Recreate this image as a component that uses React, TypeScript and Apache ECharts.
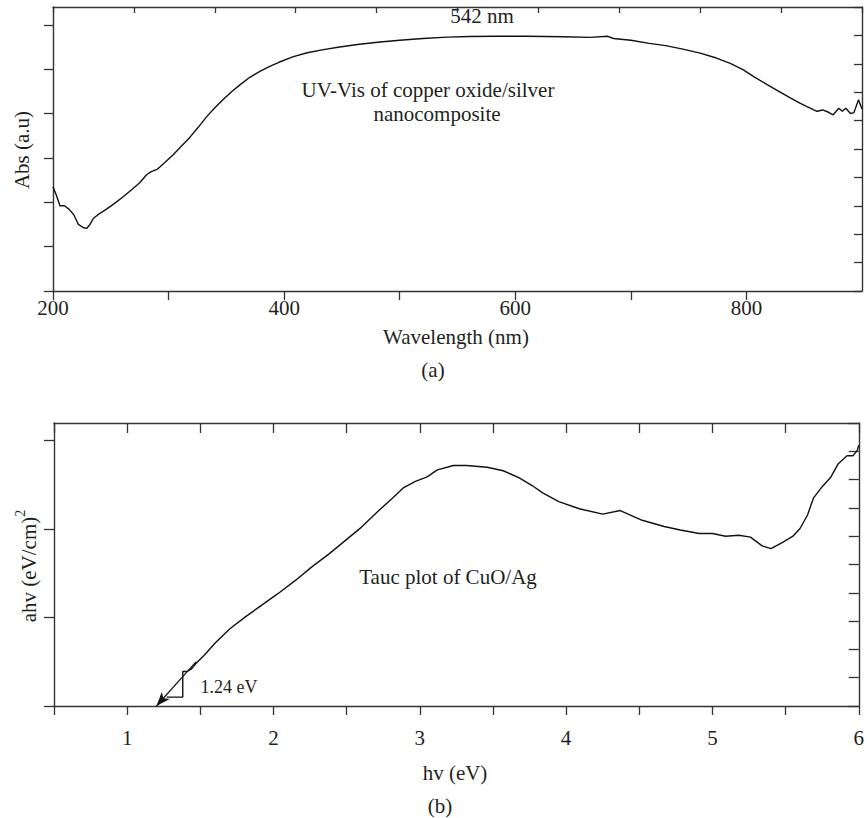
import React, { useEffect, useRef } from "react";
import * as echarts from "echarts";

// ---- Panel (a): UV-Vis spectrum ----
const wavelength = [
  200, 203, 206, 210, 214, 218, 222, 226, 229, 232, 235, 240, 246, 253, 261, 268, 275, 281, 285, 290,
  297, 304, 311, 318, 326, 333, 340, 347, 355, 362, 370, 379, 388, 396, 408, 420, 434, 448, 465, 483,
  500, 520, 541, 560, 584, 610, 641, 665, 680, 685, 700, 716, 730, 745, 760, 774, 786, 797, 807, 818,
  828, 838, 845, 852, 857, 861, 866, 870, 875, 880, 883, 886, 890, 893, 897, 900,
];
const absorbance = [
  2.35, 2.15, 1.92, 1.92, 1.84, 1.72, 1.5, 1.43, 1.41, 1.5, 1.64, 1.74, 1.84, 1.97, 2.13, 2.28, 2.44, 2.62, 2.69, 2.74,
  2.9, 3.07, 3.26, 3.45, 3.7, 3.93, 4.13, 4.31, 4.5, 4.65, 4.81, 4.95, 5.07, 5.16, 5.28, 5.37, 5.44, 5.5, 5.56, 5.61,
  5.65, 5.69, 5.72, 5.735, 5.74, 5.74, 5.73, 5.715, 5.74, 5.69, 5.65, 5.58, 5.53, 5.45, 5.36, 5.25, 5.13, 4.99, 4.82, 4.65,
  4.5, 4.35, 4.25, 4.16, 4.1, 4.05, 4.08, 4.04, 3.97, 4.12, 4.05, 4.12, 4.0, 4.02, 4.31, 4.1,
];
const wavelengthLabels = [200, 400, 600, 800];

// ---- Panel (b): Tauc plot ----
const photonEnergy = [
  1.27, 1.38, 1.38, 1.41, 1.44, 1.47, 1.53, 1.6, 1.7, 1.81, 1.92, 2.03, 2.15, 2.26, 2.38, 2.49, 2.6, 2.72, 2.82, 2.89,
  2.97, 3.05, 3.12, 3.23, 3.32, 3.46, 3.57, 3.68, 3.77, 3.84, 3.95, 4.09, 4.25, 4.37, 4.52, 4.67, 4.78, 4.91, 5.0, 5.09,
  5.18, 5.26, 5.34, 5.4, 5.48, 5.55, 5.6, 5.65, 5.69, 5.75, 5.81, 5.86, 5.92, 5.96, 5.99, 6.0,
];
const taucValues = [
  0.1, 0.1, 0.39, 0.39, 0.42, 0.48, 0.58, 0.71, 0.87, 1.01, 1.14, 1.27, 1.42, 1.57, 1.72, 1.87, 2.02, 2.21, 2.36, 2.47,
  2.54, 2.59, 2.67, 2.72, 2.72, 2.7, 2.66, 2.58, 2.49, 2.41, 2.31, 2.23, 2.17, 2.21, 2.1, 2.03, 1.99, 1.95, 1.95, 1.92,
  1.93, 1.91, 1.81, 1.78, 1.85, 1.92, 2.01, 2.16, 2.35, 2.48, 2.59, 2.74, 2.83, 2.83, 2.89, 2.95,
];
const energyLabels = [1, 2, 3, 4, 5, 6];
const tangentStart = [1.47, 0.5];
const tangentEnd = [1.2, 0];

const FONT = "'Liberation Serif', 'Times New Roman', serif";
const TEXT = "#231f20";
const AXIS = "#333333";

export default function App() {
  const ref = useRef<HTMLDivElement>(null);

  useEffect(() => {
    if (!ref.current) return;
    const chart = echarts.init(ref.current, undefined, { renderer: "svg" });

    const axisLine = { show: true, onZero: false, lineStyle: { color: AXIS, width: 1.4 } };
    const tickStyle = { color: AXIS, width: 1.3 };

    const txt = (text: string, x: number, y: number, size = 21, rotation = 0) => ({
      type: "text",
      x,
      y,
      rotation,
      style: {
        text,
        fill: TEXT,
        font: `${size}px ${FONT}`,
        textAlign: "center",
        textVerticalAlign: "middle",
      },
    });

    chart.setOption({
      animation: false,
      backgroundColor: "#ffffff",
      grid: [
        { left: 53, top: 7, width: 809, height: 284 },
        { left: 54, top: 423, width: 810, height: 283 },
      ],
      xAxis: [
        {
          gridIndex: 0,
          type: "value",
          position: "bottom",
          min: 200,
          max: 900,
          interval: 100,
          axisLine,
          axisTick: { show: true, inside: false, length: 9, lineStyle: tickStyle },
          axisLabel: {
            margin: 6,
            fontFamily: FONT,
            fontSize: 21,
            color: TEXT,
            showMaxLabel: false,
            formatter: (v: number) => (wavelengthLabels.includes(v) ? String(v) : ""),
          },
          splitLine: { show: false },
        },
        {
          gridIndex: 0,
          type: "value",
          position: "top",
          min: 0,
          max: 10,
          interval: 1,
          axisLine,
          axisTick: { show: true, inside: true, length: 6, lineStyle: tickStyle },
          axisLabel: { show: false },
          splitLine: { show: false },
        },
        {
          gridIndex: 1,
          type: "value",
          position: "bottom",
          min: 0.5,
          max: 6,
          interval: 0.5,
          axisLine,
          axisTick: { show: true, inside: false, length: 9, lineStyle: tickStyle },
          axisLabel: {
            margin: 21,
            fontFamily: FONT,
            fontSize: 21,
            color: TEXT,
            formatter: (v: number) => (energyLabels.includes(v) ? String(v) : ""),
          },
          splitLine: { show: false },
        },
        {
          gridIndex: 1,
          type: "value",
          position: "top",
          min: 0.5,
          max: 6,
          interval: 0.5,
          axisLine,
          axisTick: { show: true, inside: true, length: 10, lineStyle: tickStyle },
          axisLabel: { show: false },
          splitLine: { show: false },
        },
      ],
      yAxis: [
        {
          gridIndex: 0,
          type: "value",
          position: "left",
          min: 0,
          max: 6.4,
          interval: 1,
          axisLine,
          axisTick: { show: true, inside: false, length: 9, lineStyle: tickStyle, customValues: [0, 1, 2, 3, 4, 5, 6] },
          axisLabel: { show: false },
          splitLine: { show: false },
        },
        {
          gridIndex: 0,
          type: "value",
          position: "right",
          min: 0,
          max: 10,
          interval: 1,
          axisLine,
          axisTick: { show: true, inside: true, length: 8, lineStyle: tickStyle },
          axisLabel: { show: false },
          splitLine: { show: false },
        },
        {
          gridIndex: 1,
          type: "value",
          position: "left",
          min: 0,
          max: 3.2,
          interval: 1,
          axisLine,
          axisTick: { show: true, inside: false, length: 10, lineStyle: tickStyle, customValues: [0, 1, 2, 3] },
          axisLabel: { show: false },
          splitLine: { show: false },
        },
        {
          gridIndex: 1,
          type: "value",
          position: "right",
          min: 0,
          max: 10,
          interval: 1,
          axisLine,
          axisTick: { show: true, inside: true, length: 10, lineStyle: tickStyle },
          axisLabel: { show: false },
          splitLine: { show: false },
        },
      ],
      series: [
        {
          type: "line",
          xAxisIndex: 0,
          yAxisIndex: 0,
          data: wavelength.map((w, i) => [w, absorbance[i]]),
          showSymbol: false,
          symbol: "none",
          lineStyle: { color: "#111111", width: 1.4 },
          silent: true,
        },
        {
          type: "line",
          xAxisIndex: 2,
          yAxisIndex: 2,
          data: photonEnergy.map((e, i) => [e, taucValues[i]]),
          showSymbol: false,
          symbol: "none",
          lineStyle: { color: "#111111", width: 1.4 },
          silent: true,
          markLine: {
            silent: true,
            animation: false,
            label: { show: false },
            itemStyle: { color: "#111111" },
            lineStyle: { color: "#111111", width: 1.2, type: "solid" },
            data: [
              [
                { coord: tangentStart, symbol: "none" },
                { coord: tangentEnd, symbol: "arrow", symbolSize: [8, 14], itemStyle: { color: "#111111" } },
              ],
            ],
          },
        },
      ],
      graphic: [
        txt("542 nm", 482, 16),
        txt("UV-Vis of copper oxide/silver", 428, 90),
        txt("nanocomposite", 437, 114),
        txt("Abs (a.u)", 22, 150, 21, Math.PI / 2),
        txt("Wavelength (nm)", 456, 337),
        txt("(a)", 433, 370),
        txt("Tauc plot of CuO/Ag", 448, 577),
        txt("1.24 eV", 229, 687, 18),
        {
          type: "text",
          x: 26,
          y: 566,
          rotation: Math.PI / 2,
          style: {
            text: "{m|ahv (eV/cm)}{s|2}",
            fill: TEXT,
            font: `21px ${FONT}`,
            textAlign: "center",
            textVerticalAlign: "middle",
            rich: {
              m: { fontFamily: FONT, fontSize: 21, fill: TEXT, lineHeight: 26, verticalAlign: "bottom" },
              s: { fontFamily: FONT, fontSize: 14, fill: TEXT, lineHeight: 26, verticalAlign: "top" },
            },
          },
        },
        txt("hv (eV)", 455, 773),
        txt("(b)", 440, 806),
      ],
    });

    return () => chart.dispose();
  }, []);

  return (
    <div
      ref={ref}
      style={{ position: "fixed", left: 0, top: 0, width: 867, height: 818, background: "#fff" }}
    />
  );
}
